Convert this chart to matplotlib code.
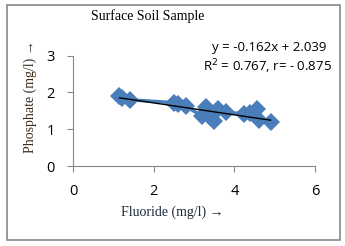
import numpy as np
import matplotlib
matplotlib.use('Agg')
import matplotlib.pyplot as plt
from matplotlib.patches import Rectangle

# fluoride vs phosphate readings
fluoride = [1.15, 1.2, 1.4, 2.5, 2.6, 2.8, 3.2, 3.3, 3.4, 3.5, 3.6, 3.8, 4.25, 4.4, 4.55, 4.6, 4.9]
phosphate = [1.9, 1.85, 1.8, 1.72, 1.68, 1.62, 1.36, 1.6, 1.32, 1.22, 1.55, 1.46, 1.42, 1.45, 1.55, 1.24, 1.2]
slope, intercept = -0.162, 2.039

fig = plt.figure(figsize=(3.45, 2.46), dpi=100)
fig.patches.append(Rectangle((0.02, 0.025), 0.965, 0.955, transform=fig.transFigure,
                             fill=False, edgecolor='#888888', linewidth=1.2))

ax = fig.add_axes([0.212, 0.325, 0.701, 0.449])
ax.plot(fluoride, phosphate, '-', color='#4a7ebb', linewidth=2.5, marker='D',
        markersize=9, markeredgewidth=0, zorder=2)
xs = np.array([min(fluoride), max(fluoride)])
ax.plot(xs, slope * xs + intercept, color='black', linewidth=1.0, zorder=3)

ax.set_xlim(0, 6)
ax.set_ylim(0, 3)
ax.set_xticks([0, 2, 4, 6])
ax.set_yticks([0, 1, 2, 3])
for s in ['top', 'right']:
    ax.spines[s].set_visible(False)
for s in ['left', 'bottom']:
    ax.spines[s].set_color('#888888')
ax.tick_params(colors='#888888', labelcolor='black', length=4, labelsize=10.5, pad=9)
for lbl in ax.get_xticklabels() + ax.get_yticklabels():
    lbl.set_family('Open Sans')

fig.text(148 / 345, 1 - 16 / 246, 'Surface Soil Sample', family='Liberation Serif',
         fontsize=10, ha='center', va='center')
fig.text(30 / 345, 1 - 97 / 246, 'Phosphate (mg/l) \u2192', family='Liberation Serif',
         fontsize=10, rotation=90, ha='center', va='center', color='#3a2a1a')
fig.text(172 / 345, 1 - 212 / 246, 'Fluoride (mg/l) \u2192', family='Liberation Serif',
         fontsize=10, ha='center', va='center', color='#1a2a3a')
fig.text(326 / 345, 1 - 47 / 246, 'y = -0.162x + 2.039', family='Open Sans',
         fontsize=9.5, ha='right', va='center')
fig.text(332 / 345, 1 - 67 / 246, 'R$^2$ = 0.767, r= - 0.875', family='Open Sans',
         fontsize=9.5, ha='right', va='center')

fig.savefig('out.png', dpi=100)
